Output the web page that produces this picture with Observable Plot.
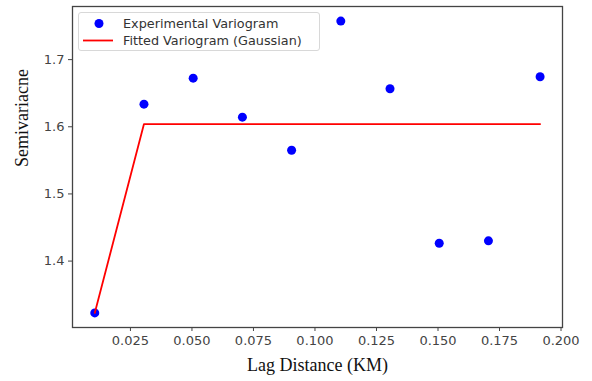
<!DOCTYPE html>
<html>
<head>
<meta charset="utf-8">
<script src="https://cdn.jsdelivr.net/npm/d3@7"></script>
<script src="https://cdn.jsdelivr.net/npm/@observablehq/plot@0.6"></script>
<style>
  html, body { margin: 0; padding: 0; background: #fff; }
  #wrap { position: relative; width: 592px; height: 381px; }
  #legend {
    position: absolute; left: 78px; top: 12px; width: 240px; height: 37px;
    border: 1px solid #d8d8d8; border-radius: 3px; background: rgba(255,255,255,0.85);
    font-family: "DejaVu Sans", sans-serif; font-size: 12.8px; color: #333;
  }
  .row { position: absolute; left: 0; height: 17px; display: flex; align-items: center; }
  .row span { position: absolute; left: 44px; white-space: nowrap; }
</style>
</head>
<body>
<div id="wrap">
  <div id="chart"></div>
  <div id="legend">
    <div class="row" style="top:2px"><svg width="40" height="17"><circle cx="20" cy="8.5" r="4.5" fill="#0000ff"/></svg><span>Experimental Variogram</span></div>
    <div class="row" style="top:19px"><svg width="40" height="17"><line x1="4" x2="34" y1="8.5" y2="8.5" stroke="#ff0000" stroke-width="1.8"/></svg><span>Fitted Variogram (Gaussian)</span></div>
  </div>
</div>
<script>
const lagDistance = [0.0105, 0.0305, 0.0505, 0.0705, 0.0905, 0.1105, 0.1305, 0.1505, 0.1705, 0.1915];
const experimental = [1.3228, 1.6337, 1.6724, 1.6143, 1.5651, 1.7574, 1.6566, 1.4265, 1.4301, 1.6745];
const fitted = [1.3228, 1.6040, 1.6040, 1.6040, 1.6040, 1.6040, 1.6040, 1.6040, 1.6040, 1.6040];
const xTicks = [0.025, 0.050, 0.075, 0.100, 0.125, 0.150, 0.175, 0.200];
const yTicks = [1.4, 1.5, 1.6, 1.7];
const xLabel = "Lag Distance (KM)";
const yLabel = "Semivariacne";

const pts = lagDistance.map((x, i) => ({x, y: experimental[i]}));
const fit = lagDistance.map((x, i) => ({x, y: fitted[i]}));

const chart = Plot.plot({
  width: 592,
  height: 381,
  marginLeft: 72,
  marginRight: 30,
  marginTop: 6,
  marginBottom: 54,
  style: {fontFamily: "'DejaVu Sans', sans-serif", fontSize: "13px", color: "#444", background: "#fff"},
  x: {domain: [0.00145, 0.2006], label: null},
  y: {domain: [1.3011, 1.7791], label: null},
  marks: [
    Plot.axisX({ticks: xTicks, tickFormat: d3.format(".3f"), tickSize: 4, tickPadding: 4, stroke: "#444", label: null}),
    Plot.axisY({ticks: yTicks, tickFormat: d3.format(".1f"), tickSize: 4, tickPadding: 4, stroke: "#444", label: null}),
    Plot.frame({stroke: "#444", strokeWidth: 1.3}),
    Plot.dot(pts, {x: "x", y: "y", r: 4.5, fill: "#0000ff", stroke: "none"}),
    Plot.line(fit, {x: "x", y: "y", stroke: "#ff0000", strokeWidth: 1.8}),
    Plot.text([xLabel], {text: d => d, frameAnchor: "bottom", dy: 43, fontFamily: "'Liberation Serif', serif", fontSize: 18, fill: "#111"}),
    Plot.text([yLabel], {text: d => d, frameAnchor: "left", dx: -50, rotate: -90, fontFamily: "'Liberation Serif', serif", fontSize: 18, fill: "#111"})
  ]
});
document.getElementById("chart").appendChild(chart);
</script>
</body>
</html>
